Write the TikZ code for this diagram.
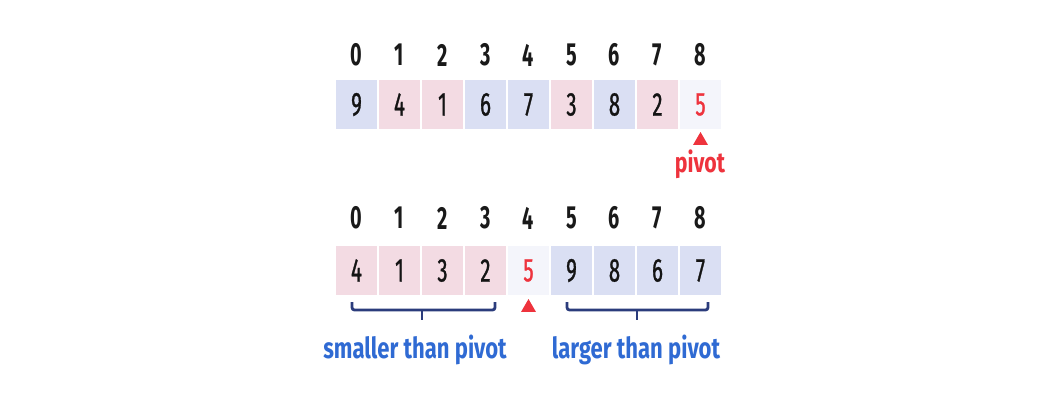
\documentclass[tikz,border=0pt]{standalone}
\usepackage{fontspec}
\setmainfont{Fira Sans}
\newfontfamily\numfont[FakeStretch=0.62]{Fira Sans}
\newfontfamily\cellfont[FakeStretch=0.62,FakeBold=0.9]{Fira Sans}
\newfontfamily\lblfont[FakeStretch=0.76]{Fira Sans}
\usetikzlibrary{shapes.geometric}
\definecolor{cblue}{HTML}{DADFF3}
\definecolor{cpink}{HTML}{F3DBE3}
\definecolor{cpiv}{HTML}{F4F5FB}
\definecolor{cred}{HTML}{EE333D}
\definecolor{tblue}{HTML}{2F6AD3}
\definecolor{navy}{HTML}{2B3C7C}
\tikzset{
  cell/.style={minimum width=41pt,minimum height=49pt,inner sep=0pt,text=black!92,
    font=\cellfont\fontsize{33}{33}\selectfont},
  idx/.style={inner sep=0pt,text=black!90,font=\numfont\bfseries\fontsize{32}{32}\selectfont},
  tri/.style={regular polygon,regular polygon sides=3,fill=cred,inner sep=0pt,minimum size=17pt},
  lbl/.style={inner sep=0pt,text=tblue,font=\lblfont\bfseries\fontsize{29}{29}\selectfont},
  brace/.style={draw=navy,line width=2.8pt,rounded corners=2.5pt},
}
\begin{document}
\begin{tikzpicture}[x=1pt,y=-1pt]
\useasboundingbox[fill=white] (0,0) rectangle (1062,407);
% top row
\foreach \v/\c [count=\i from 0] in {9/cblue,4/cpink,1/cpink,6/cblue,7/cblue,3/cpink,8/cblue,2/cpink,5/cpiv}{
  \node[cell,fill=\c] (t\i) at (356.5+43*\i,104.5) {\v};
  \node[idx] (ti\i) at (356.5+43*\i,55) {\i};
}
\node[cell,fill=cpiv,text=cred] at (t8) {5};
\node[tri] (ttri) at (700.5,140.5) {};
\node[inner sep=0pt,text=cred,font=\lblfont\bfseries\fontsize{28}{28}\selectfont] (piv) at (700,164) {pivot};
% bottom row
\foreach \v/\c [count=\i from 0] in {4/cpink,1/cpink,3/cpink,2/cpink,5/cpiv,9/cblue,8/cblue,6/cblue,7/cblue}{
  \node[cell,fill=\c] (b\i) at (356.5+43*\i,270.5) {\v};
  \node[idx] (bi\i) at (356.5+43*\i,218) {\i};
}
\node[cell,fill=cpiv,text=cred] at (b4) {5};
\node[tri] (btri) at (528.5,307.5) {};
% brackets
\coordinate (l1) at (352,302);
\coordinate (l2) at (495,302);
\coordinate (lm) at (422,310);
\coordinate (r1) at (567,302);
\coordinate (r2) at (708,302);
\coordinate (rm) at (637,310);
\draw[brace] (l1) |- (lm) -| (l2);
\draw[brace,rounded corners=0pt] (lm) -- ++(0,10);
\draw[brace] (r1) |- (rm) -| (r2);
\draw[brace,rounded corners=0pt] (rm) -- ++(0,10);
\node[lbl] (ls) at (415,350) {smaller than pivot};
\node[lbl] (ll) at (636,350) {larger than pivot};
\end{tikzpicture}
\end{document}
